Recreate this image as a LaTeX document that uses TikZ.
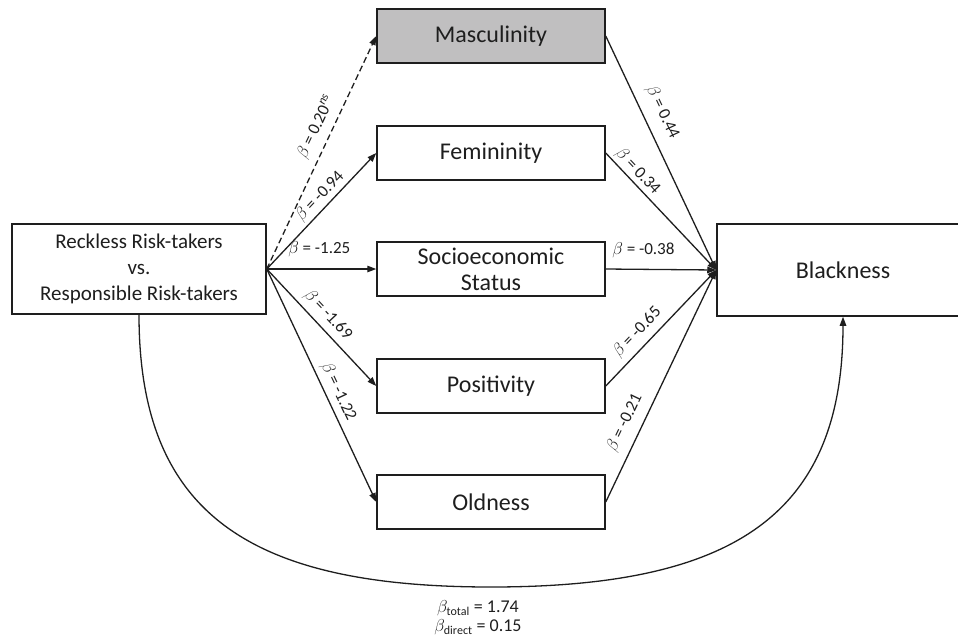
\documentclass[tikz,border=0pt]{standalone}
\usepackage{fontspec}
\setmainfont{Carlito}
\usetikzlibrary{arrows.meta}
\definecolor{mascgray}{HTML}{C0BFC0}
\definecolor{ink}{HTML}{1E1E1E}
\begin{document}
\begin{tikzpicture}[x=1pt,y=-1pt, color=ink,
  box/.style={draw, line width=1.5pt, minimum width=228pt, minimum height=54pt, inner sep=0pt, font=\fontsize{24}{28}\selectfont},
  bigbox/.style={draw, line width=1.5pt, inner sep=0pt, align=center},
  conn/.style={line width=1.3pt, -{Triangle[length=9pt,width=6.5pt]}},
  lab/.style={sloped, above, font=\fontsize{17}{20}\selectfont}
]
\useasboundingbox (0,0) rectangle (958,641);

\node[bigbox, minimum width=254pt, minimum height=90pt, font=\fontsize{21}{26}\selectfont] (lt) at (139,269) {Reckless Risk-takers\\vs.\\Responsible Risk-takers};
\node[bigbox, minimum width=252pt, minimum height=92pt, font=\fontsize{24}{28}\selectfont] (blk) at (843,270) {Blackness};

\node[box, fill=mascgray] (masc) at (491,36) {Masculinity};
\node[box] (fem) at (491,153) {Femininity};
\node[box, align=center, font=\fontsize{24}{26}\selectfont] (ses) at (491,269) {Socioeconomic\\Status};
\node[box] (pos) at (491,386) {Positivity};
\node[box] (old) at (491,502) {Oldness};

% a paths
\draw[conn, dash pattern=on 6pt off 3.5pt] (lt.east) -- node[lab, pos=0.58, inner sep=7pt] {$\beta$ = 0.20\textsuperscript{\textit{ns}}} (masc.west);
\draw[conn] (lt.east) -- node[lab, pos=0.56, inner sep=2.7pt] {$\beta$ = -0.94} (fem.west);
\draw[conn] (lt.east) -- node[lab, pos=0.48, inner sep=11pt] {$\beta$ = -1.25} (ses.west);
\draw[conn] (lt.east) -- node[lab, pos=0.47, inner sep=4.9pt] {$\beta$ = -1.69} (pos.west);
\draw[conn] (lt.east) -- node[lab, pos=0.55, inner sep=4.4pt] {$\beta$ = -1.22} (old.west);

% b paths
\draw[conn] (masc.east) -- node[lab, pos=0.36, inner sep=10.4pt] {$\beta$ = 0.44} (blk.west);
\draw[conn] (fem.east) -- node[lab, pos=0.22, inner sep=2.3pt] {$\beta$ = 0.34} (blk.west);
\draw[conn] (ses.east) -- node[lab, pos=0.34, inner sep=11pt] {$\beta$ = -0.38} (blk.west);
\draw[conn] (pos.east) -- node[lab, pos=0.38, inner sep=6pt] {$\beta$ = -0.65} (blk.west);
\draw[conn] (old.east) -- node[lab, pos=0.31, inner sep=8.5pt] {$\beta$ = -0.21} (blk.west);

% c path
\coordinate (bot) at (491,587);
\draw[conn] (lt.south) .. controls +(0,200) and +(-240,0) .. (bot) .. controls +(240,0) and +(0,200) .. (blk.south);

\node[align=center, font=\fontsize{18}{22}\selectfont] (tot) at (478,618)
  {$\beta_{\mbox{\fontsize{12}{12}\selectfont total}}$ = 1.74\\[-3pt]
   $\beta_{\mbox{\fontsize{12}{12}\selectfont direct}}$ = 0.15};
\end{tikzpicture}
\end{document}
